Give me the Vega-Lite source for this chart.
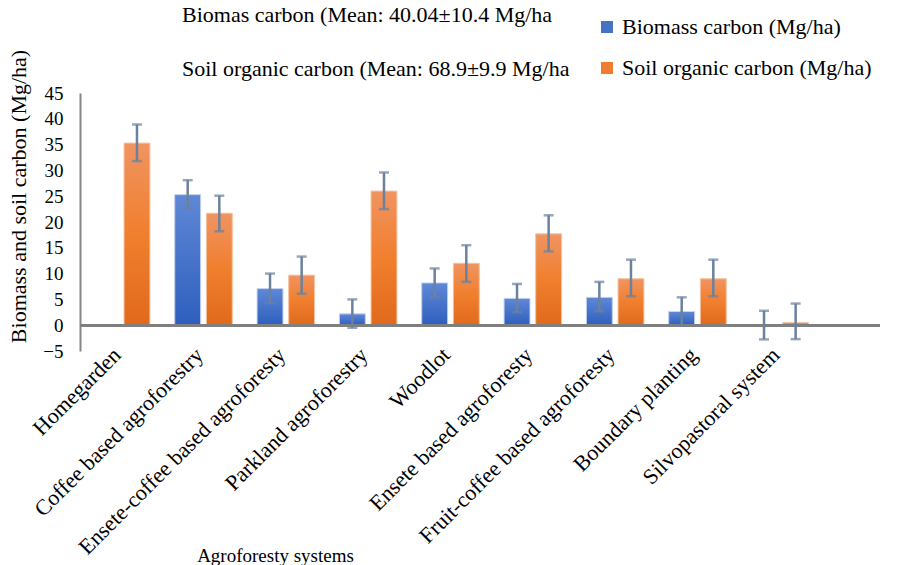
{
  "$schema": "https://vega.github.io/schema/vega-lite/v6.json",
  "autosize": "none",
  "padding": {"left": 80, "top": 93, "right": 18, "bottom": 214},
  "width": 800,
  "height": 258,
  "background": "white",
  "title": {
    "text": ["Biomas carbon (Mean: 40.04±10.4 Mg/ha", "Soil organic carbon (Mean: 68.9±9.9 Mg/ha"],
    "anchor": "start",
    "frame": "group",
    "dx": 102,
    "dy": 65,
    "offset": 0,
    "lineHeight": 54,
    "font": "Liberation Serif",
    "fontSize": 22,
    "fontWeight": "normal",
    "color": "black"
  },
  "data": {
    "values": [
      {"system": "Homegarden", "series": "Biomass carbon (Mg/ha)", "value": 0, "lo": null, "hi": null},
      {"system": "Homegarden", "series": "Soil organic carbon (Mg/ha)", "value": 35.3, "lo": 31.8, "hi": 38.9},
      {"system": "Coffee based agroforestry", "series": "Biomass carbon (Mg/ha)", "value": 25.3, "lo": 22.6, "hi": 28.1},
      {"system": "Coffee based agroforestry", "series": "Soil organic carbon (Mg/ha)", "value": 21.7, "lo": 18.2, "hi": 25.1},
      {"system": "Ensete-coffee based agroforesty", "series": "Biomass carbon (Mg/ha)", "value": 7.1, "lo": 4.3, "hi": 10.0},
      {"system": "Ensete-coffee based agroforesty", "series": "Soil organic carbon (Mg/ha)", "value": 9.7, "lo": 6.1, "hi": 13.3},
      {"system": "Parkland agroforestry", "series": "Biomass carbon (Mg/ha)", "value": 2.2, "lo": -0.5, "hi": 5.0},
      {"system": "Parkland agroforestry", "series": "Soil organic carbon (Mg/ha)", "value": 26.0, "lo": 22.5, "hi": 29.6},
      {"system": "Woodlot", "series": "Biomass carbon (Mg/ha)", "value": 8.2, "lo": 5.4, "hi": 11.0},
      {"system": "Woodlot", "series": "Soil organic carbon (Mg/ha)", "value": 12.0, "lo": 8.4, "hi": 15.5},
      {"system": "Ensete based agroforesty", "series": "Biomass carbon (Mg/ha)", "value": 5.2, "lo": 2.5, "hi": 8.0},
      {"system": "Ensete based agroforesty", "series": "Soil organic carbon (Mg/ha)", "value": 17.7, "lo": 14.3, "hi": 21.3},
      {"system": "Fruit-coffee based agroforesty", "series": "Biomass carbon (Mg/ha)", "value": 5.4, "lo": 2.7, "hi": 8.4},
      {"system": "Fruit-coffee based agroforesty", "series": "Soil organic carbon (Mg/ha)", "value": 9.0, "lo": 5.6, "hi": 12.7},
      {"system": "Boundary planting", "series": "Biomass carbon (Mg/ha)", "value": 2.65, "lo": -0.1, "hi": 5.4},
      {"system": "Boundary planting", "series": "Soil organic carbon (Mg/ha)", "value": 9.0, "lo": 5.6, "hi": 12.7},
      {"system": "Silvopastoral system", "series": "Biomass carbon (Mg/ha)", "value": 0, "lo": -2.75, "hi": 2.8},
      {"system": "Silvopastoral system", "series": "Soil organic carbon (Mg/ha)", "value": 0.5, "lo": -2.7, "hi": 4.2}
    ]
  },
  "resolve": {"axis": {"y": "independent"}},
  "encoding": {
    "x": {
      "field": "system",
      "type": "nominal",
      "sort": null,
      "scale": {"range": [0, 741], "paddingInner": 0.232, "paddingOuter": 0.116},
      "axis": {
        "title": "Agroforesty systems",
        "domain": false,
        "ticks": false,
        "labelAngle": -45,
        "labelAlign": "right",
        "labelBaseline": "middle",
        "labelPadding": 0,
        "labelOffset": -4,
        "labelOverlap": false,
        "labelFont": "Liberation Serif",
        "labelFontSize": 22,
        "labelColor": "black",
        "labelLimit": 400,
        "titleFont": "Liberation Serif",
        "titleFontSize": 19,
        "titleFontWeight": "normal",
        "titleColor": "black",
        "titleX": 195,
        "titleY": 204,
        "titleAlign": "center",
        "titleBaseline": "middle",
        "titleAnchor": null
      }
    },
    "xOffset": {
      "field": "series",
      "type": "nominal",
      "scale": {"paddingInner": 0.18, "paddingOuter": 0.09}
    }
  },
  "layer": [
    {
      "mark": {"type": "bar"},
      "encoding": {
        "y": {
          "field": "value",
          "type": "quantitative",
          "scale": {"domain": [-5, 45], "nice": false, "zero": false},
          "axis": {
            "title": "Biomass and soil carbon (Mg/ha)",
            "values": [-5, 0, 5, 10, 15, 20, 25, 30, 35, 40, 45],
            "labelOverlap": false,
            "labelBound": false,
            "grid": false,
            "ticks": false,
            "domainColor": "#868686",
            "domainWidth": 2,
            "labelFont": "Liberation Serif",
            "labelFontSize": 19,
            "labelColor": "black",
            "labelPadding": 17,
            "titleFont": "Liberation Serif",
            "titleFontSize": 22,
            "titleFontWeight": "normal",
            "titleColor": "black",
            "titleX": -62,
            "titleY": 103,
            "titleAlign": "center",
            "titleBaseline": "middle",
            "titleAnchor": null
          }
        },
        "y2": {"datum": 0},
        "color": {
          "field": "series",
          "type": "nominal",
          "scale": {"range": ["#4472c4", "#ed7d31"]},
          "legend": {
            "title": null,
            "orient": "none",
            "legendX": 516,
            "legendY": -77,
            "symbolType": "square",
            "symbolSize": 144,
            "symbolStrokeWidth": 0,
            "labelFont": "Liberation Serif",
            "labelFontSize": 22,
            "labelColor": "black",
            "labelOffset": 4,
            "rowPadding": 19,
            "labelLimit": 400
          }
        }
      }
    },
    {
      "transform": [{"filter": "datum.series === 'Biomass carbon (Mg/ha)'"}],
      "mark": {
        "type": "bar",
        "stroke": "#c9d6f0",
        "strokeWidth": 1,
        "color": {
          "gradient": "linear",
          "x1": 0, "y1": 0, "x2": 0, "y2": 1,
          "stops": [
            {"offset": 0, "color": "#5f88d6"},
            {"offset": 1, "color": "#2e5fbe"}
          ]
        }
      },
      "encoding": {
        "y": {"field": "value", "type": "quantitative", "axis": null},
        "y2": {"datum": 0}
      }
    },
    {
      "transform": [{"filter": "datum.series === 'Soil organic carbon (Mg/ha)'"}],
      "mark": {
        "type": "bar",
        "stroke": "#f7c8a8",
        "strokeWidth": 1,
        "color": {
          "gradient": "linear",
          "x1": 0, "y1": 0, "x2": 0, "y2": 1,
          "stops": [
            {"offset": 0, "color": "#f09461"},
            {"offset": 0.5, "color": "#f07f2e"},
            {"offset": 1, "color": "#e1691c"}
          ]
        }
      },
      "encoding": {
        "y": {"field": "value", "type": "quantitative", "axis": null},
        "y2": {"datum": 0}
      }
    },
    {
      "mark": {"type": "rule", "color": "#7f7f7f", "strokeWidth": 2},
      "encoding": {"y": {"datum": 0, "type": "quantitative", "axis": null}, "x": null, "xOffset": null}
    },
    {
      "transform": [{"filter": "isValid(datum.lo)"}],
      "mark": {"type": "rule", "color": "#6b819e", "strokeWidth": 2.5},
      "encoding": {
        "y": {"field": "lo", "type": "quantitative", "axis": null},
        "y2": {"field": "hi"}
      }
    },
    {
      "transform": [{"filter": "isValid(datum.lo)"}],
      "mark": {"type": "tick", "color": "#6b819e", "thickness": 2.5, "size": 10},
      "encoding": {"y": {"field": "lo", "type": "quantitative", "axis": null}}
    },
    {
      "transform": [{"filter": "isValid(datum.hi)"}],
      "mark": {"type": "tick", "color": "#6b819e", "thickness": 2.5, "size": 10},
      "encoding": {"y": {"field": "hi", "type": "quantitative", "axis": null}}
    }
  ],
  "config": {
    "view": {"stroke": null},
    "font": "Liberation Serif"
  }
}
